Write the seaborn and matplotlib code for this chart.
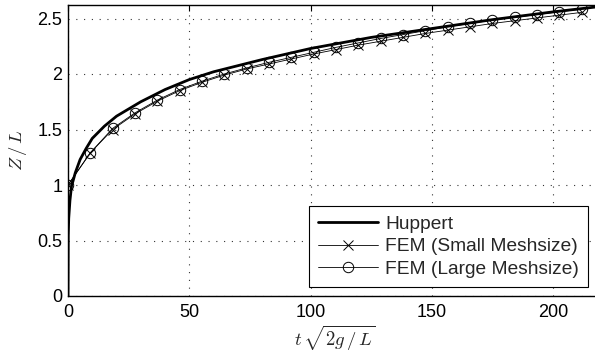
import matplotlib
matplotlib.use("Agg")
import matplotlib.pyplot as plt
import seaborn as sns
import pandas as pd

# Huppert analytical solution
huppert_t = [0, 0.1, 0.3, 0.8, 1.5, 2, 3, 5, 7.5, 10, 15, 20, 30, 40, 50, 60,
             80, 100, 125, 150, 175, 200, 220]
huppert_z = [0, 0.55, 0.70, 0.86, 1.00, 1.03, 1.11, 1.23, 1.33, 1.42, 1.53, 1.62,
             1.75, 1.86, 1.95, 2.02, 2.13, 2.23, 2.33, 2.41, 2.49, 2.56, 2.61]

# FEM results (sampled where the markers are)
fem_t = [0, 9.2, 18.4, 27.6, 36.8, 46.0, 55.2, 64.4, 73.6, 82.8, 92.0, 101.2,
         110.4, 119.6, 128.8, 138.0, 147.2, 156.4, 165.6, 174.8, 184.0, 193.2,
         202.4, 211.6]
fem_small_z = [1.0, 1.29, 1.50, 1.64, 1.755, 1.85, 1.925, 1.99, 2.045, 2.09, 2.135,
               2.18, 2.22, 2.26, 2.295, 2.33, 2.365, 2.395, 2.425, 2.455, 2.48,
               2.505, 2.53, 2.555]
fem_large_z = [1.0, 1.29, 1.51, 1.65, 1.765, 1.86, 1.935, 2.0, 2.055, 2.105, 2.15,
               2.195, 2.24, 2.28, 2.32, 2.355, 2.39, 2.425, 2.455, 2.485, 2.51,
               2.535, 2.56, 2.585]

labels = ["Huppert", "FEM (Small Meshsize)", "FEM (Large Meshsize)"]
x_ticks = [0, 50, 100, 150, 200]
y_ticks = [0, 0.5, 1, 1.5, 2, 2.5]
y_tick_labels = ["0", "0.5", "1", "1.5", "2", "2.5"]

sns.set_theme(style="white")
plt.rcParams["font.family"] = ["Liberation Sans", "DejaVu Sans"]
plt.rcParams["mathtext.fontset"] = "cm"

W, H = 595, 358
fig = plt.figure(figsize=(W / 100, H / 100), dpi=100)
x0, y0 = 68, 296
px_per_x = 2.427
px_per_y = 111.0
xmax, ymax = 220, 2.62
ax = fig.add_axes([x0 / W, (H - y0) / H, xmax * px_per_x / W, ymax * px_per_y / H])

df_h = pd.DataFrame({"t": huppert_t, "z": huppert_z})
df_s = pd.DataFrame({"t": fem_t, "z": fem_small_z})
df_l = pd.DataFrame({"t": fem_t, "z": fem_large_z})

sns.lineplot(data=df_h, x="t", y="z", ax=ax, color="black", linewidth=2.0,
             label=labels[0], sort=False, estimator=None)
sns.lineplot(data=df_s, x="t", y="z", ax=ax, color="black", linewidth=0.6,
             marker="x", markersize=6.5, markeredgewidth=0.7,
             markeredgecolor="black", label=labels[1],
             sort=False, estimator=None)
sns.lineplot(data=df_l, x="t", y="z", ax=ax, color="black", linewidth=0.6,
             marker="o", markersize=7.5, markerfacecolor="none",
             markeredgecolor="black", markeredgewidth=0.7, label=labels[2],
             sort=False, estimator=None)

ax.set_xlim(0, xmax)
ax.set_ylim(0, ymax)
ax.set_xticks(x_ticks)
ax.set_xticklabels([str(v) for v in x_ticks])
ax.set_yticks(y_ticks)
ax.set_yticklabels(y_tick_labels)
ax.tick_params(direction="in", length=4, width=0.8, top=True, right=True,
               labelsize=13, colors="black")
ax.tick_params(axis="x", pad=6)
ax.tick_params(axis="y", pad=4)
ax.grid(True, color="black", linestyle=(0, (1, 6)), linewidth=0.8, alpha=0.8)
for s in ax.spines.values():
    s.set_color("black")
    s.set_linewidth(1.0)

ax.set_xlabel(r"$t\,\sqrt{2g\,/\,L}$", fontsize=13.5, labelpad=2)
ax.set_ylabel(r"$Z\,/\,L$", fontsize=13.5, labelpad=6)

leg = ax.legend(loc="lower right", bbox_to_anchor=(587.7 / W, (H - 286.7) / H),
                bbox_transform=fig.transFigure, borderaxespad=0, fancybox=False,
                framealpha=1, edgecolor="black", fontsize=13.8, handlelength=3.1,
                handletextpad=0.4, labelspacing=0.28, borderpad=0.45, numpoints=1)
leg.get_frame().set_linewidth(0.8)

fig.savefig("out.png", dpi=100)
